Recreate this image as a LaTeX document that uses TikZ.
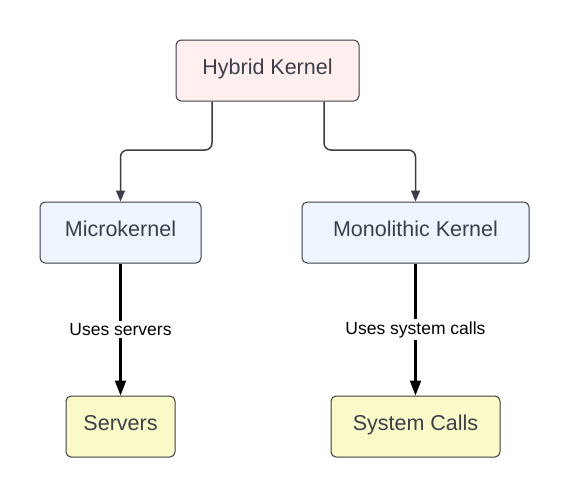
\documentclass[tikz,border=0pt]{standalone}
\usepackage{fontspec}
\setmainfont{Liberation Sans}
\usetikzlibrary{arrows.meta}
\definecolor{boxline}{HTML}{3A3D45}
\definecolor{boxtext}{HTML}{3B3F4A}
\definecolor{pinkfill}{HTML}{FFEFEF}
\definecolor{bluefill}{HTML}{EEF5FF}
\definecolor{yellowfill}{HTML}{FAFAC8}
\tikzset{every picture/.style={line width=1pt}}
\tikzset{
  box/.style={draw=boxline, fill=#1, rounded corners=5pt, minimum height=61pt,
              inner sep=0pt, text height=15.5pt, text depth=8.5pt,
              text=boxtext, font=\fontsize{21.5}{24}\selectfont},
  box/.default={bluefill},
  link/.style={draw=boxline, line width=1.5pt, rounded corners=7pt,
               -{Triangle[length=11pt, width=9pt]}},
  uses/.style={draw=black, line width=2.2pt,
               -{Triangle[length=15pt, width=11pt]}},
  tag/.style={fill=white, inner sep=2pt, font=\fontsize{17.5}{20}\selectfont},
}

\begin{document}
\begin{tikzpicture}[x=1pt, y=-1pt]
  \useasboundingbox (0,0) rectangle (569,498);
  % boxes
  \node[box=pinkfill, minimum width=183pt] (hybrid) at (267.5,70.5) {Hybrid Kernel};
  \node[box, minimum width=161pt] (micro) at (120.5,232.5) {Microkernel};
  \node[box, minimum width=227pt] (mono) at (415.5,232.5) {Monolithic Kernel};
  \node[box=yellowfill, minimum width=109pt] (servers) at (120.5,426.5) {Servers};
  \node[box=yellowfill, minimum width=169pt] (syscalls) at (415.5,426.5) {System Calls};
  % elbow links from the top box
  \draw[link] (hybrid.south -| 212,0) |- (120.5,150) -- (micro.north);
  \draw[link] (hybrid.south -| 324,0) |- (415.5,150) -- (mono.north);
  % labelled links
  \draw[uses] (micro) -- node[tag, pos=.5] {Uses servers} (servers);
  \draw[uses] (mono) -- node[tag, pos=.5] {Uses system calls} (syscalls);
\end{tikzpicture}
\end{document}
